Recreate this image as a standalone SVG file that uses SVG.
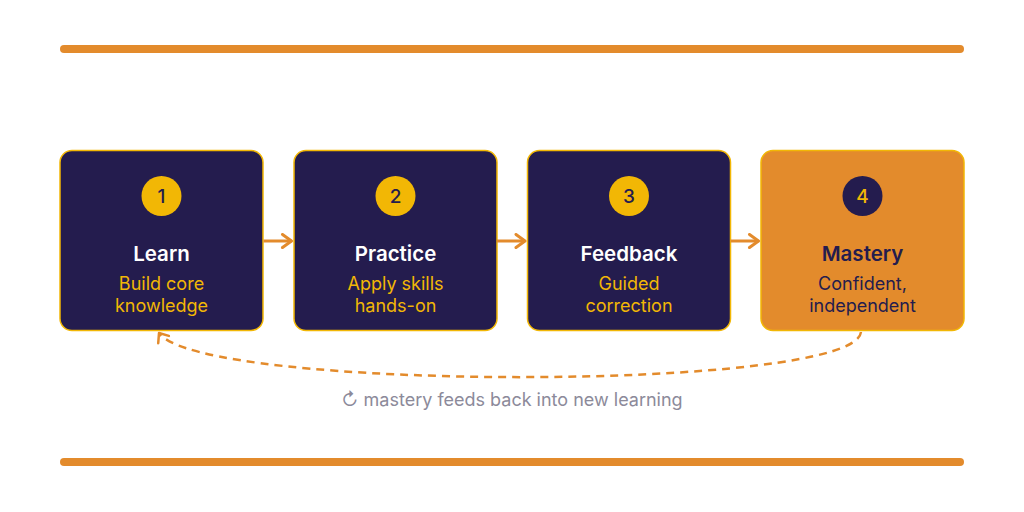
<svg xmlns="http://www.w3.org/2000/svg" width="1024" height="512" viewBox="0 0 1024 512">
<defs>
<marker id="chev" viewBox="0 0 14 16" refX="12" refY="8" markerWidth="14" markerHeight="16" markerUnits="userSpaceOnUse" orient="auto">
<path d="M3 1.5 L12 8 L3 14.5" fill="none" stroke="#E38B2C" stroke-width="3" stroke-linecap="round" stroke-linejoin="round"/>
</marker>
<marker id="chev2" viewBox="0 0 14 16" refX="11" refY="8" markerWidth="14" markerHeight="16" markerUnits="userSpaceOnUse" orient="auto">
<path d="M3 1.5 L11 8 L3 14.5" fill="none" stroke="#E38B2C" stroke-width="2.5" stroke-linecap="round" stroke-linejoin="round"/>
</marker>
<style>
.box{fill:#241C4E;stroke:#F2B705;stroke-width:1.5}
.box4{fill:#E38B2C;stroke:#F2B705;stroke-width:1.5}
.num{font-family:Inter,"Liberation Sans",sans-serif;font-size:19px;font-weight:500;text-anchor:middle}
.title{font-family:Inter,"Liberation Sans",sans-serif;font-size:20.5px;font-weight:600;text-anchor:middle;fill:#FFFFFF}
.sub{font-family:Inter,"Liberation Sans",sans-serif;font-size:18px;text-anchor:middle;fill:#F2B705}
.bar{stroke:#E38B2C;stroke-width:8;stroke-linecap:round}
.conn{fill:none;stroke:#E38B2C;stroke-width:3}
.loop{fill:none;stroke:#E38B2C;stroke-width:2.5;stroke-dasharray:8 6}
.note{font-family:Inter,"Liberation Sans",sans-serif;font-size:18px;text-anchor:middle;fill:#8C8A9A}
</style>
</defs>
<rect width="1024" height="512" fill="#FFFFFF"/>
<line class="bar" x1="64" y1="49" x2="960" y2="49"/>
<line class="bar" x1="64" y1="462" x2="960" y2="462"/>

<g id="learn">
<rect class="box" x="60" y="150.5" width="203" height="180" rx="12"/>
<circle cx="161.5" cy="196" r="20" fill="#F2B705"/>
<text class="num" x="161.5" y="203" fill="#241C4E">1</text>
<text class="title" x="161.5" y="261">Learn</text>
<text class="sub" x="161.5" y="290">Build core</text>
<text class="sub" x="161.5" y="312">knowledge</text>
</g>
<g id="practice">
<rect class="box" x="294" y="150.5" width="203" height="180" rx="12"/>
<circle cx="395.5" cy="196" r="20" fill="#F2B705"/>
<text class="num" x="395.5" y="203" fill="#241C4E">2</text>
<text class="title" x="395.5" y="261">Practice</text>
<text class="sub" x="395.5" y="290">Apply skills</text>
<text class="sub" x="395.5" y="312">hands-on</text>
</g>
<g id="feedback">
<rect class="box" x="527.5" y="150.5" width="203" height="180" rx="12"/>
<circle cx="629" cy="196" r="20" fill="#F2B705"/>
<text class="num" x="629" y="203" fill="#241C4E">3</text>
<text class="title" x="629" y="261">Feedback</text>
<text class="sub" x="629" y="290">Guided</text>
<text class="sub" x="629" y="312">correction</text>
</g>
<g id="mastery">
<rect class="box4" x="761" y="150.5" width="203" height="180" rx="12"/>
<circle cx="862.5" cy="196" r="20" fill="#241C4E"/>
<text class="num" x="862.5" y="203" fill="#F2B705">4</text>
<text class="title" x="862.5" y="261" style="fill:#241C4E">Mastery</text>
<text class="sub" x="862.5" y="290" style="fill:#241C4E">Confident,</text>
<text class="sub" x="862.5" y="312" style="fill:#241C4E">independent</text>
</g>

<g id="connectors">
<line class="conn" x1="263.5" y1="241" x2="291.5" y2="241" marker-end="url(#chev)"/>
<line class="conn" x1="497" y1="241" x2="525" y2="241" marker-end="url(#chev)"/>
<line class="conn" x1="730.5" y1="241" x2="758.5" y2="241" marker-end="url(#chev)"/>
<path class="loop" d="M861 332 C855 392, 200 392, 159 333" marker-end="url(#chev2)"/>
</g>
<text class="note" x="512" y="406">↻ mastery feeds back into new learning</text>
</svg>
